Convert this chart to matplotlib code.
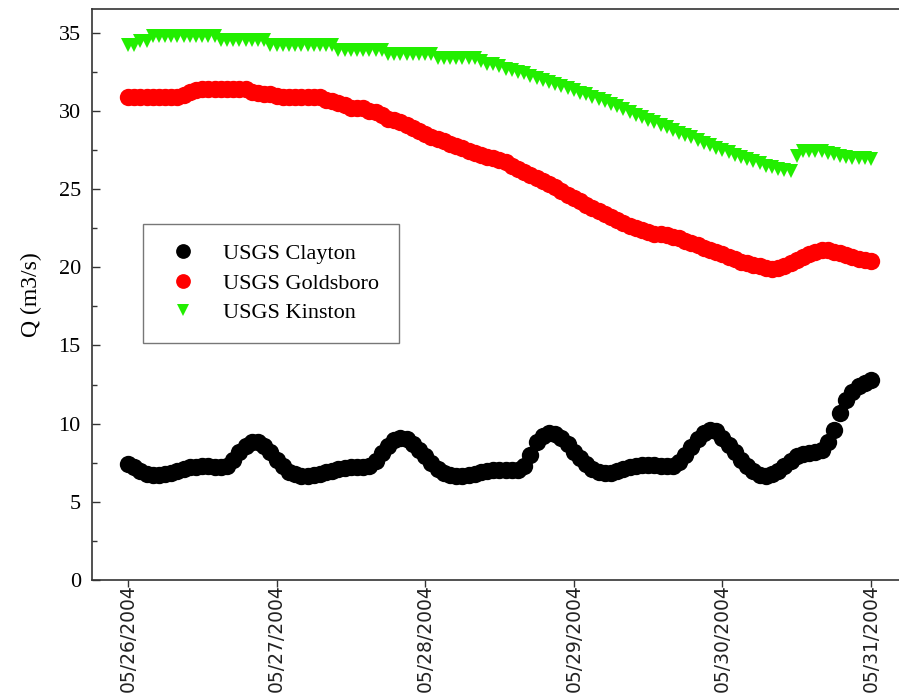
import numpy as np
import pandas as pd
import matplotlib
matplotlib.use("Agg")
import matplotlib.pyplot as plt
import matplotlib.dates as mdates

# Hourly discharge readings, 05/26/2004 00:00 through 05/31/2004 00:00
times = pd.date_range("2004-05-26 00:00", "2004-05-31 00:00", freq="1h")

clayton = [
    # 05/26
    7.4, 7.2, 7.0, 6.8, 6.7, 6.7, 6.75, 6.85, 7.0, 7.1, 7.2, 7.25,
    7.3, 7.3, 7.25, 7.25, 7.3, 7.7, 8.2, 8.6, 8.85, 8.8, 8.6, 8.2,
    # 05/27
    7.7, 7.3, 6.9, 6.75, 6.65, 6.65, 6.7, 6.8, 6.9, 7.0, 7.1, 7.15,
    7.2, 7.2, 7.25, 7.3, 7.6, 8.1, 8.6, 8.95, 9.1, 9.0, 8.7, 8.3,
    # 05/28
    7.9, 7.5, 7.1, 6.85, 6.7, 6.65, 6.65, 6.7, 6.8, 6.9, 7.0, 7.05,
    7.05, 7.05, 7.05, 7.05, 7.3, 8.0, 8.8, 9.2, 9.4, 9.35, 9.1, 8.7,
    # 05/29
    8.2, 7.8, 7.4, 7.1, 6.9, 6.85, 6.85, 6.95, 7.1, 7.2, 7.3, 7.35,
    7.35, 7.35, 7.3, 7.3, 7.3, 7.55, 8.0, 8.5, 9.0, 9.4, 9.6, 9.5,
    # 05/30
    9.1, 8.65, 8.2, 7.7, 7.3, 6.95, 6.7, 6.65, 6.75, 7.0, 7.3, 7.6,
    7.9, 8.05, 8.15, 8.2, 8.3, 8.8, 9.6, 10.7, 11.5, 12.0, 12.4, 12.6,
    # 05/31
    12.8,
]

goldsboro = [
    30.9, 30.9, 30.9, 30.9, 30.9, 30.9, 30.9, 30.9, 30.9, 31.0, 31.2, 31.3,
    31.4, 31.4, 31.4, 31.4, 31.4, 31.4, 31.4, 31.4, 31.2, 31.15, 31.1, 31.05,
    30.95, 30.9, 30.9, 30.9, 30.9, 30.9, 30.9, 30.9, 30.7, 30.6, 30.5, 30.35,
    30.2, 30.2, 30.15, 30.0, 29.9, 29.7, 29.5, 29.4, 29.25, 29.1, 28.9, 28.7,
    28.5, 28.35, 28.2, 28.05, 27.9, 27.75, 27.6, 27.45, 27.3, 27.2, 27.05, 26.95,
    26.85, 26.7, 26.5, 26.3, 26.1, 25.9, 25.7, 25.5, 25.3, 25.1, 24.85, 24.6,
    24.4, 24.2, 24.0, 23.8, 23.6, 23.4, 23.2, 23.0, 22.85, 22.65, 22.5, 22.35,
    22.25, 22.15, 22.1, 22.05, 21.95, 21.85, 21.7, 21.55, 21.4, 21.25, 21.1, 20.95,
    20.85, 20.65, 20.5, 20.35, 20.25, 20.15, 20.05, 19.95, 19.9, 19.95, 20.05, 20.25,
    20.45, 20.65, 20.85, 21.0, 21.1, 21.1, 21.0, 20.9, 20.75, 20.65, 20.55, 20.45,
    20.4,
]

kinston = [
    34.2, 34.2, 34.45, 34.45, 34.75, 34.75, 34.75, 34.75, 34.75, 34.75, 34.75, 34.75,
    34.75, 34.75, 34.75, 34.5, 34.5, 34.5, 34.5, 34.5, 34.5, 34.5, 34.5, 34.2,
    34.2, 34.2, 34.2, 34.2, 34.2, 34.2, 34.2, 34.2, 34.2, 34.2, 33.9, 33.9,
    33.9, 33.9, 33.9, 33.9, 33.9, 33.9, 33.65, 33.65, 33.65, 33.65, 33.65, 33.65,
    33.65, 33.65, 33.35, 33.35, 33.35, 33.35, 33.35, 33.35, 33.35, 33.2, 33.0, 33.0,
    32.85, 32.7, 32.6, 32.5, 32.4, 32.25, 32.1, 31.95, 31.85, 31.7, 31.6, 31.45,
    31.3, 31.15, 31.05, 30.9, 30.75, 30.6, 30.45, 30.3, 30.1, 29.9, 29.75, 29.6,
    29.4, 29.25, 29.1, 28.95, 28.8, 28.6, 28.45, 28.3, 28.1, 27.95, 27.8, 27.65,
    27.5, 27.35, 27.2, 27.05, 26.9, 26.8, 26.65, 26.5, 26.4, 26.3, 26.2, 26.15,
    27.1, 27.45, 27.45, 27.4, 27.4, 27.3, 27.25, 27.1, 27.05, 27.0, 27.0, 26.95,
    26.9,
]

series_names = ["USGS Clayton", "USGS Goldsboro", "USGS Kinston"]
tick_dates = pd.date_range("2004-05-26", "2004-05-31", freq="D")
tick_labels = ["05/26/2004", "05/27/2004", "05/28/2004",
               "05/29/2004", "05/30/2004", "05/31/2004"]

serif = ["Liberation Serif", "DejaVu Serif"]

fig = plt.figure(figsize=(8.99, 6.98), dpi=100)
ax = fig.add_axes([0.1023, 0.169, 0.8977, 0.818])

ax.plot(times, clayton, linestyle="none", marker="o", markersize=12.5,
        color="black", markeredgewidth=0, label=series_names[0])
ax.plot(times, goldsboro, linestyle="none", marker="o", markersize=12.5,
        color="#ff0000", markeredgewidth=0, label=series_names[1])
ax.plot(times, kinston, linestyle="none", marker="v", markersize=10,
        color="#22ee00", markeredgewidth=0, label=series_names[2])

x0 = mdates.date2num(tick_dates[0])
ax.set_xlim(x0 - 0.242, mdates.date2num(tick_dates[-1]) + 0.188)
ax.set_ylim(0, 36.5)

ax.set_xticks(mdates.date2num(tick_dates))
ax.set_xticklabels(tick_labels, rotation=90, fontsize=13.5,
                   family=["DejaVu Sans"], color="#222222")
ax.tick_params(axis="x", direction="out", length=5, width=1, pad=-2,
               color="#333333")

ax.set_yticks(np.arange(0, 36, 5))
ax.set_yticks(np.arange(2.5, 36, 5), minor=True)
ax.set_yticklabels([str(v) for v in range(0, 36, 5)], fontsize=16, family=serif)
ax.tick_params(axis="y", which="major", direction="in", length=6, width=1,
               pad=8, color="#333333")
ax.tick_params(axis="y", which="minor", direction="in", length=3.5, width=1,
               color="#333333")

ax.set_ylabel("Q (m3/s)", fontsize=17, family=serif, labelpad=12)

for side in ("left", "bottom", "top"):
    ax.spines[side].set_linewidth(1.2)
    ax.spines[side].set_color("#333333")
ax.spines["right"].set_visible(False)

leg = ax.legend(loc="upper left", bbox_to_anchor=(0.0632, 0.6235),
                borderaxespad=0, frameon=True, fancybox=False, shadow=False,
                prop={"family": serif, "size": 16}, markerscale=0.85,
                borderpad=0.87, handlelength=1.85, handletextpad=0.9,
                labelspacing=0.41)
leg.get_frame().set_edgecolor("#555555")
leg.get_frame().set_linewidth(1.0)

fig.savefig("out.png", dpi=100)
